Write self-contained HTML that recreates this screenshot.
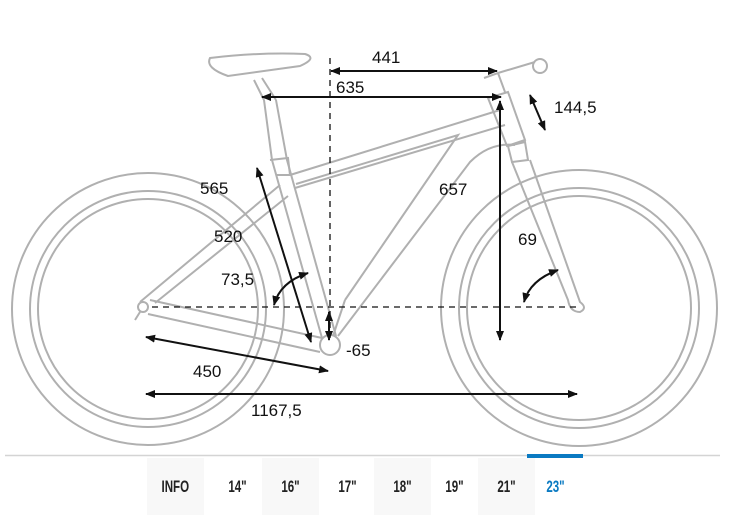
<!DOCTYPE html>
<html><head><meta charset="utf-8"><style>
body{margin:0;background:#fff;width:745px;height:528px;overflow:hidden;font-family:"Liberation Sans",sans-serif}
.tab{position:absolute;top:458px;height:57px;line-height:57px;text-align:center;font-weight:bold;font-size:17px;color:#222}
.tab span{display:inline-block;transform:scaleX(0.68)}
.bg{background:#f8f8f8}
</style></head><body>
<svg width="745" height="528" style="position:absolute;left:0;top:0" xmlns="http://www.w3.org/2000/svg">
<defs><marker id="a" markerWidth="10" markerHeight="8" refX="9" refY="4" orient="auto-start-reverse" markerUnits="userSpaceOnUse"><path d="M0,0 L10,4 L0,8 Z" fill="#111"/></marker></defs>
<g fill="none" stroke="#b0b0b0" stroke-width="2">
<circle cx="148" cy="309" r="136"/><circle cx="148" cy="309" r="118"/><circle cx="148" cy="309" r="110"/>
<circle cx="579" cy="308" r="138"/><circle cx="579" cy="308" r="120"/><circle cx="579" cy="308" r="112"/>
<path d="M150,300 L322,338 M148,314 L320,352"/>
<path d="M140,302 L280,185 M155,303 L288,196"/>
<path d="M322,338 L272,160 L264,100 M336,336 L287,160 L276,100"/>
<path d="M270,160 L288,158 L290,175 L276,175"/>
<path d="M254,80 L264,100 M262,78 L276,100"/>
<path d="M210,58 Q205,68 228,76 L300,66 Q318,58 305,54 Q260,52 210,58 Z"/>
<path d="M290,175 L500,110 M295,188 L505,125"/>
<path d="M296,184 L458,135 L345,300"/>
<path d="M338,336 L470,162 Q490,142 515,145 M330,345 L345,300"/>
<path d="M488,98 L508,92 L525,140 L507,146 Z"/>
<path d="M508,146 L525,142 L528,160 L512,162 Z"/>
<path d="M484,78 L498,73 L505,92 M498,73 L535,62"/>
<circle cx="540" cy="66" r="7"/>
<path d="M512,162 L568,300 Q570,312 580,312 Q588,308 580,302 L530,160"/>
<circle cx="143" cy="307" r="5"/><path d="M140,312 L135,320"/>
<circle cx="330" cy="345" r="10" fill="#fff"/>
</g>
<g stroke="#111" stroke-width="1.3" fill="none" stroke-dasharray="6,5">
<line x1="330" y1="58" x2="330" y2="338"/><line x1="152" y1="307" x2="578" y2="307"/>
</g>
<g stroke="#111" stroke-width="2" fill="none" marker-start="url(#a)" marker-end="url(#a)">
<line x1="331" y1="71" x2="497" y2="71"/>
<line x1="262" y1="97" x2="501" y2="97"/>
<line x1="530" y1="95" x2="545" y2="130"/>
<line x1="500" y1="101" x2="500" y2="340"/>
<line x1="257" y1="168" x2="311" y2="342"/>
<line x1="329" y1="312" x2="329" y2="340"/>
<line x1="146" y1="337" x2="328" y2="371"/>
<line x1="146" y1="394" x2="577" y2="394"/>
<path d="M274,305 Q280,282 308,273"/>
<path d="M524,302 Q530,280 558,270"/>
</g>
<g font-size="17" fill="#111" font-family="Liberation Sans,sans-serif">
<text x="372" y="63">441</text><text x="336" y="93">635</text>
<text x="554" y="113">144,5</text><text x="439" y="195">657</text>
<text x="200" y="194">565</text><text x="214" y="242">520</text>
<text x="221" y="285">73,5</text><text x="518" y="245">69</text>
<text x="346" y="356">-65</text><text x="193" y="377">450</text>
<text x="251" y="416">1167,5</text>
</g>
<line x1="5" y1="455.5" x2="720" y2="455.5" stroke="#d4d4d4" stroke-width="1.5"/>
<rect x="527" y="454" width="56" height="4" fill="#0a7ac2"/>
</svg>
<div class="tab bg" style="left:147px;width:57px"><span>INFO</span></div>
<div class="tab" style="left:213px;width:49px"><span>14"</span></div>
<div class="tab bg" style="left:262px;width:57px"><span>16"</span></div>
<div class="tab" style="left:320px;width:54px"><span>17"</span></div>
<div class="tab bg" style="left:374px;width:57px"><span>18"</span></div>
<div class="tab" style="left:431px;width:47px"><span>19"</span></div>
<div class="tab bg" style="left:478px;width:57px"><span>21"</span></div>
<div class="tab" style="left:527px;width:56px;color:#0a7ac2"><span>23"</span></div>
</body></html>
